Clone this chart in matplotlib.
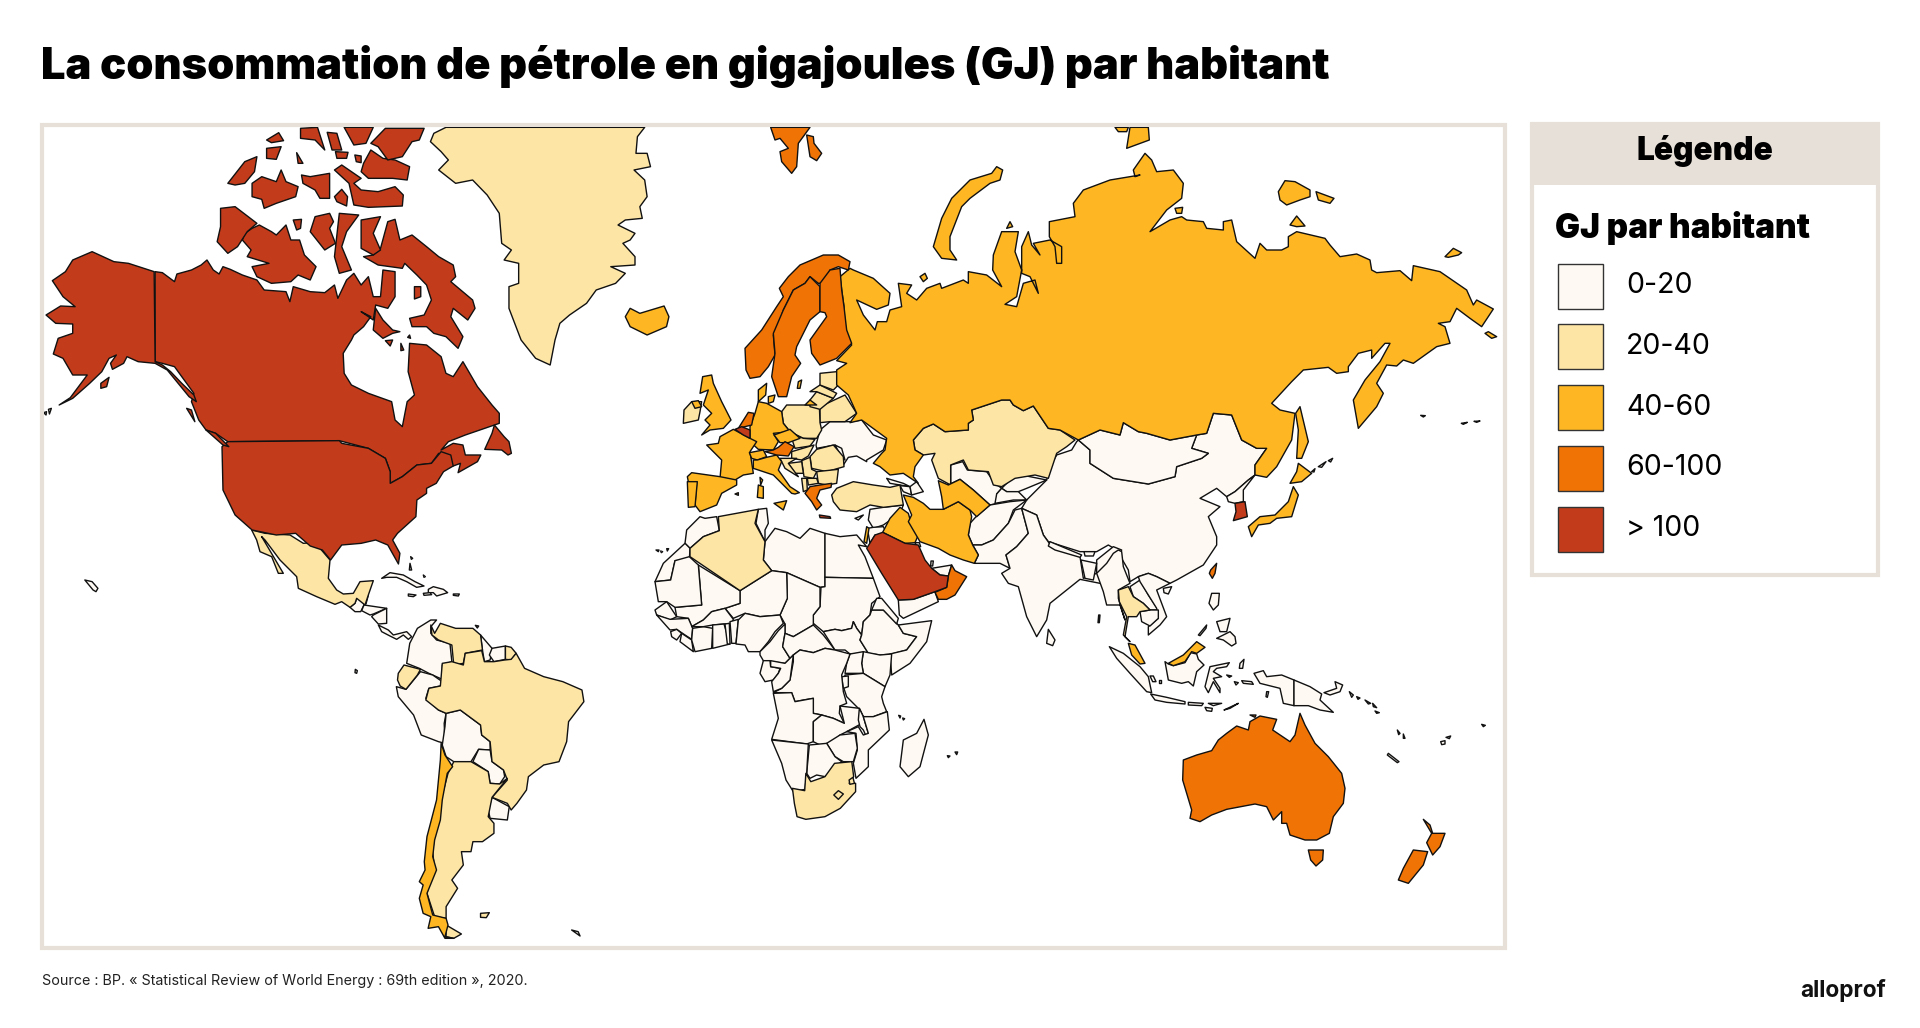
import matplotlib
matplotlib.use("Agg")
import matplotlib.pyplot as plt
from matplotlib.patches import Polygon, Rectangle

# ---- traced map outlines: each helper turns traced points into map units
def _frame(ox, oy, sx, sy):
    def conv(*v):
        return [(ox + v[i] / sx, oy + v[i + 1] / sy) for i in range(0, len(v), 2)]
    return conv
Z1 = _frame(0, 100, 2.063, 3)
Z2 = _frame(640, 120, 3, 3)
Z3 = _frame(1000, 120, 3, 3)
Z4 = _frame(360, 560, 2.613, 3)
Z5 = _frame(1000, 540, 3, 3)
Z7 = _frame(670, 370, 3, 3)
Z8 = _frame(650, 500, 3, 3)
Z9 = _frame(880, 420, 3, 3)
Z10 = _frame(240, 520, 3, 3)

TITLE = "La consommation de pétrole en gigajoules (GJ) par habitant"
SOURCE = "Source : BP. « Statistical Review of World Energy : 69th edition », 2020."
LEGEND_TITLE = "Légende"
LEGEND_SUB = "GJ par habitant"
CLASS_LABELS = ["0-20", "20-40", "40-60", "60-100", "> 100"]
CLASS_COLORS = ["#FEFAF3", "#FDE5A6", "#FEB722", "#F07305", "#C23C1C"]

RUSSIA = Z2(630,445, 640,450, 700,475, 750,520, 745,555, 710,568, 650,540, 670,585, 705,630, 712,605, 740,605, 750,570, 785,560, 775,490, 815,495, 800,520, 830,540, 860,505, 900,490, 905,505, 970,480, 985,490, 985,455, 1040,465, 1085,500, 1058,450, 1060,405, 1085,335, 1135,335, 1125,395, 1145,450, 1130,530, 1095,553, 1130,560, 1150,490, 1185,480, 1195,520, 1170,470, 1145,460, 1145,380, 1165,335, 1175,375, 1200,405, 1180,370, 1230,360, 1265,380, 1265,430, 1250,430, 1245,380, 1228,350, 1228,305, 1305,290, 1300,250, 1330,210, 1410,180, 1500,165) + \
    Z3(420,165, 405,170, 400,150, 435,100, 455,120, 470,155, 520,150, 550,190, 545,235, 500,270, 450,335, 510,300, 545,290, 560,300, 610,305, 620,325, 670,330, 670,305, 695,300, 710,365, 765,415, 780,370, 800,390, 845,390, 865,380, 865,350, 890,335, 975,355, 990,375, 1020,410, 1070,402, 1110,420, 1115,450, 1130,458, 1200,452, 1235,482, 1240,437, 1320,455, 1400,510, 1420,555, 1430,540, 1480,567, 1445,620, 1410,595, 1370,565, 1350,605, 1315,610, 1335,620, 1350,670, 1310,680, 1240,730, 1210,720, 1190,738, 1160,735, 1130,790, 1150,820, 1130,860, 1075,925, 1060,840, 1095,780, 1140,725, 1170,670, 1155,670, 1115,715, 1115,690, 1075,700, 1045,740, 1045,755, 1010,760, 985,742, 910,750, 875,785, 815,850, 840,870, 885,880, 875,960, 830,1040, 800,1072, 765,1065, 765,1035, 800,985, 770,985, 725,960, 695,885, 640,880, 620,940, 590,945, 510,960, 440,940, 415,935, 370,908, 360,945, 300,930, 235,960) + \
    Z2(1260,930, 1225,925, 1180,858, 1150,872, 1120,855, 1110,840, 1085,840, 995,870, 1000,900, 985,910, 985,930, 915,935, 880,912, 850,925, 820,960, 825,990, 850,1005, 825,1040, 820,1070, 835,1090, 790,1060, 750,1065, 720,1040, 700,1030, 725,1000, 735,990, 740,955, 665,900, 630,908, 650,880, 625,825, 590,795, 590,750, 620,730, 590,722, 635,675, 615,630, 612,560, 600,470)
CHINA = Z3(235,960, 270,990, 270,1030, 340,1075, 445,1092, 525,1070, 530,1040, 605,1015, 625,1000, 575,985, 590,945, 620,940, 640,880, 695,885, 725,960, 770,985, 800,985, 765,1035, 765,1065, 745,1080, 705,1115, 680,1130, 650,1105, 600,1135, 660,1160, 625,1190, 650,1250, 650,1275, 610,1335, 530,1380) + \
    Z5(510,130, 470,110, 445,100, 415,110, 390,125, 385,90, 350,30, 325,15, 290,35, 240,35, 145,5) + \
    Z9(490,345, 470,285, 425,265, 440,240, 500,180, 510,140, 530,105, 575,90, 590,65)

SHAPES_LOW = {
 "China": CHINA,
 "Mongolia": Z3(235,960, 300,930, 360,945, 370,908, 415,935, 440,940, 510,960, 590,945, 575,985, 625,1000, 605,1015, 530,1040, 525,1070, 445,1092, 340,1075, 270,1030, 270,990),
 "North Korea": Z3(680,1130, 705,1115, 745,1080, 765,1065, 730,1110, 730,1145, 705,1150, 685,1145),
 "Guatemala": Z10(330,262, 345,250, 350,235, 372,228, 372,255, 362,275, 345,275),
 "Belize": Z10(372,228, 385,225, 378,252, 372,252),
 "Honduras": Z10(372,255, 440,265, 400,282, 390,285, 365,272),
 "Nicaragua": Z10(400,285, 440,265, 440,310, 415,312, 395,290),
 "Costa Rica Panama": Z10(415,315, 445,330, 460,345, 480,340, 500,335, 515,350, 505,358, 490,345, 470,358, 450,348, 425,335),
 "Cuba": Z10(425,175, 450,158, 490,165, 525,185, 552,198, 530,202, 500,185, 470,172, 440,172),
 "Hispaniola": Z10(565,208, 580,200, 610,208, 623,218, 590,228, 580,218, 565,218),
 "Haiti S": Z10(550,220, 570,218, 575,224, 552,226),
 "Jamaica": Z10(505,222, 528,225, 520,230, 505,228),
 "Puerto Rico": Z10(640,222, 658,222, 655,228, 640,226),
 "Colombia": Z4(130,250, 150,205, 185,180, 200,180, 185,200, 185,220, 200,240, 235,250, 240,305, 215,315, 215,358, 180,340, 155,325, 122,310),
 "Guyana": Z4(315,225, 345,265, 340,300, 325,305, 320,270),
 "Suriname": Z4(345,265, 380,258, 380,298, 350,305, 338,285),
 "Peru": Z4(95,380, 120,388, 158,335, 190,345, 215,365, 210,378, 180,385, 172,415, 205,450, 225,460, 220,490, 222,550, 205,545, 160,525, 140,465, 100,410),
 "Bolivia": Z4(225,460, 262,450, 315,495, 318,525, 340,545, 340,570, 310,568, 290,605, 245,605, 225,590, 215,555, 222,500),
 "Paraguay": Z4(310,568, 340,570, 345,605, 375,630, 378,650, 365,672, 340,670, 335,635, 295,605),
 "Uruguay": Z4(345,712, 390,740, 385,780, 340,775, 335,750),
 "Morocco": Z8(105,130, 110,90, 150,50, 165,55, 200,50, 208,92, 160,110, 120,145),
 "W Sahara": Z8(15,245, 40,190, 105,130, 120,145, 118,180, 75,182, 62,240),
 "Tunisia": Z8(325,28, 350,25, 355,70, 345,90, 345,125, 318,70),
 "Libya": Z8(345,125, 375,85, 410,95, 450,115, 480,85, 525,100, 525,260, 510,262, 410,218, 365,212, 340,180),
 "Egypt": Z8(525,100, 570,110, 620,105, 650,140, 625,135, 645,170, 670,235, 525,232),
 "Sudan": Z8(525,232, 670,235, 690,290, 665,310, 660,345, 640,365, 635,405, 620,385, 610,365, 605,385, 575,392, 555,388, 520,395, 490,370, 490,345, 510,320, 513,262, 525,260),
 "Chad": Z8(410,218, 510,262, 510,320, 490,345, 490,375, 430,410, 405,400, 405,372, 390,345, 412,295),
 "Niger": Z8(270,272, 365,212, 410,218, 412,295, 390,345, 330,350, 285,340, 250,355, 225,325, 270,310),
 "Mali": Z8(145,195, 270,272, 270,310, 225,325, 185,335, 160,360, 125,380, 115,355, 80,350, 75,322, 155,315),
 "Mauritania": Z8(15,245, 62,240, 75,182, 118,170, 145,195, 155,315, 75,322, 50,305, 25,305),
 "Senegal": Z8(15,330, 50,305, 80,350, 60,360, 20,345),
 "Guinea": Z8(20,345, 60,358, 115,355, 128,385, 125,418, 105,405, 80,388, 60,390),
 "Sierra Leone": Z8(62,395, 80,388, 95,400, 80,420, 65,410),
 "Liberia": Z8(95,400, 125,420, 130,455, 90,425),
 "Ivory Coast": Z8(128,385, 160,380, 188,385, 185,445, 135,455, 125,420),
 "Burkina": Z8(125,380, 160,360, 185,335, 225,325, 250,358, 245,370, 188,375, 160,380),
 "Ghana": Z8(188,375, 222,372, 240,432, 188,445),
 "Togo": Z8(225,372, 238,370, 240,432, 232,432),
 "Benin": Z8(240,365, 265,358, 258,430, 245,430),
 "Nigeria": Z8(265,360, 285,340, 330,350, 390,345, 400,370, 375,395, 355,425, 330,455, 295,455, 285,435, 258,432),
 "Cameroon": Z8(330,455, 360,425, 385,392, 405,372, 405,400, 398,440, 420,475, 405,490, 340,482, 330,465),
 "CAR": Z8(405,400, 430,410, 490,375, 520,405, 555,450, 525,445, 490,458, 450,450, 430,465, 420,475, 398,440),
 "South Sudan": Z8(520,395, 555,388, 575,392, 605,385, 610,365, 620,385, 635,405, 630,420, 655,460, 635,460, 600,462, 585,450, 555,450),
 "Ethiopia": Z8(635,405, 640,365, 660,345, 665,330, 700,330, 745,375, 760,400, 800,410, 770,450, 725,462, 690,465, 655,460, 630,420),
 "Eritrea": Z8(665,330, 680,295, 695,295, 745,355, 740,372, 700,330),
 "Somalia": Z8(745,375, 845,362, 830,425, 780,490, 725,525, 720,462, 770,450, 800,410, 760,400),
 "Kenya": Z8(640,455, 690,465, 725,462, 720,525, 705,560, 640,520, 635,490),
 "Uganda": Z8(600,462, 640,455, 635,490, 640,520, 585,520, 590,490),
 "Tanzania": Z8(585,525, 640,520, 705,560, 695,590, 700,610, 710,635, 670,650, 640,650, 625,625, 590,590, 580,560),
 "Rwanda": Z8(575,530, 595,528, 595,560, 580,565),
 "DRC": Z8(450,450, 490,458, 525,445, 555,450, 600,462, 590,490, 575,525, 580,575, 590,610, 570,618, 568,640, 583,670, 550,655, 515,645, 490,640, 490,595, 460,600, 435,605, 425,578, 370,578, 395,565, 420,540, 430,485, 430,465),
 "Gabon": Z8(340,482, 360,482, 362,500, 390,505, 385,520, 370,540, 345,545, 330,520),
 "Congo": Z8(362,482, 405,490, 430,465, 420,540, 395,565, 370,575, 365,545, 385,520, 392,505, 362,500),
 "Angola": Z8(370,580, 425,578, 435,605, 490,595, 490,640, 515,645, 490,665, 490,725, 470,732, 365,718, 385,655),
 "Zambia": Z8(515,645, 550,655, 583,670, 570,618, 628,625, 640,650, 645,665, 590,695, 570,705, 545,728, 510,735, 490,725, 490,665),
 "Malawi": Z8(628,625, 640,650, 655,700, 650,712, 640,690, 630,680, 625,660),
 "Mozambique": Z8(640,650, 670,650, 712,635, 718,690, 655,750, 655,800, 618,835, 610,790, 622,750, 618,700, 590,695, 625,680, 640,705, 655,700),
 "Zimbabwe": Z8(530,730, 570,705, 615,700, 622,745, 610,785, 580,785, 555,770),
 "Botswana": Z8(478,735, 530,730, 555,770, 575,785, 545,810, 525,830, 500,825, 480,835, 470,820),
 "Namibia": Z8(365,720, 475,732, 470,820, 465,868, 430,875, 408,840, 395,790),
 "Madagascar": Z8(822,658, 835,705, 810,800, 775,830, 750,800, 760,720, 800,700),
 "Sri Lanka": Z8(1195,388, 1215,420, 1208,437, 1190,430),
 "Yemen": Z8(745,300, 790,298, 855,275, 865,305, 760,355, 748,345),
 "UAE": Z8(845,205, 905,195, 895,228, 870,225),
 "Qatar": Z8(843,183, 850,183, 848,198, 842,198),
 "Kuwait": Z8(795,128, 808,128, 812,140, 800,138),
 "Uzbekistan": Z9(212,135, 248,125, 262,150, 320,155, 345,190, 365,205, 350,222, 352,250, 330,255, 280,210, 240,178, 205,195, 212,195),
 "Kyrgyzstan": Z9(365,205, 400,170, 440,168, 500,180, 440,205, 415,215, 380,215),
 "Tajikistan": Z9(350,222, 365,205, 380,215, 415,215, 440,240, 400,240, 345,250),
 "Afghanistan": Z9(270,310, 290,288, 330,255, 390,245, 440,240, 400,270, 385,310, 340,360, 305,375, 278,375, 265,345),
 "Pakistan": Z9(278,375, 305,375, 340,360, 385,310, 405,270, 425,265, 445,340, 410,380, 378,405, 390,445, 360,430, 283,430, 295,405),
 "India": Z9(425,265, 470,285, 490,345, 515,380, 600,410, 610,475, 650,460, 650,420, 700,380, 725,390, 715,420, 680,500, 660,490, 600,478, 510,550, 500,600, 470,650, 440,590, 415,500, 385,490, 365,460, 390,445, 378,405, 410,380, 445,340),
 "Nepal": Z9(510,365, 605,405, 600,412, 525,390, 505,378),
 "Bhutan": Z9(612,395, 645,395, 640,408, 615,408),
 "Bangladesh": Z9(603,420, 650,430, 640,480, 615,475),
 "Myanmar": Z9(715,390, 725,395, 730,440, 750,490, 715,510, 715,535, 735,600, 720,555, 680,555, 670,515, 650,460, 680,430, 700,400),
 "Laos": Z5(390,140, 420,120, 445,165, 475,210, 450,210, 430,190, 400,170),
 "Vietnam": Z5(415,110, 445,100, 470,110, 510,130, 470,150, 500,230, 480,255, 445,285, 445,260, 475,235, 470,205, 445,165, 420,125),
 "Cambodia": Z5(420,215, 450,210, 475,210, 475,235, 450,258, 425,245),
 "Hainan": Z5(490,145, 515,140, 505,162, 492,158),
 "Borneo": Z5(495,365, 505,372, 520,377, 555,368, 572,338, 590,342, 595,358, 612,375, 590,395, 580,438, 565,425, 545,430, 505,420),
 "Sumatra": Z5(328,320, 370,340, 420,380, 445,410, 455,458, 440,455, 390,400, 350,355),
 "Java": Z5(452,462, 500,472, 555,485, 555,492, 500,487, 465,480),
 "Bangka": Z5(450,408, 460,408, 468,425, 458,425),
 "Belitung": Z5(476,420, 484,420, 484,428, 476,428),
 "Sunda 1": Z5(565,487, 610,490, 605,497, 565,495),
 "Sunda 2": Z5(625,490, 665,490, 640,497),
 "Sumba": Z5(615,502, 637,505, 635,514, 620,512),
 "Timor": Z5(672,510, 715,490, 690,505),
 "Sulawesi": Z5(630,380, 688,368, 680,380, 650,385, 640,395, 665,410, 640,415, 660,445, 660,458, 640,425, 625,458, 615,440, 625,400),
 "Papua": Z5(762,400, 790,392, 800,410, 845,405, 882,420, 882,497, 850,490, 840,445, 780,430),
 "PNG": Z5(882,420, 930,440, 965,462, 960,480, 1000,517, 960,510, 925,497, 882,497),
 "New Britain": Z5(972,458, 1010,445, 1005,425, 1028,435, 1020,455, 990,465),
 "Luzon": Z5(635,160, 658,160, 655,195, 640,210, 627,190),
 "Visayas": Z5(650,245, 690,235, 680,275, 660,275),
 "Mindanao": Z5(650,295, 690,275, 705,290, 708,310, 695,318, 670,300),
 "Palawan": Z5(595,285, 620,255, 618,265, 600,287),
 "Seram": Z5(725,422, 755,425, 760,433, 730,430),
 "Buru": Z5(703,425, 715,428, 708,435),
 "Obi": Z5(680,405, 695,408, 688,412),
 "Halmahera": Z5(720,370, 732,358, 728,385, 718,385),
 "Aru": Z5(800,455, 806,455, 802,472, 798,470),
 "New Caledonia": Z5(1165,640, 1197,665, 1192,668, 1162,645),
 "Fiji": Z5(1322,605, 1335,602, 1335,612, 1325,614),
 "Fiji 2": Z5(1338,592, 1352,588, 1348,596),
 "Solomon 1": Z5(1048,455, 1060,465, 1055,472),
 "Solomon 2": Z5(1095,480, 1112,490, 1105,492),
 "Solomon 3": Z5(1118,490, 1130,503, 1120,500),
 "Solomon 4": Z5(1125,513, 1138,518, 1130,520),
 "Solomon 5": Z5(1070,470, 1080,474, 1074,478),
 "Vanuatu 1": Z5(1192,570, 1200,580, 1196,584),
 "Vanuatu 2": Z5(1210,582, 1215,595, 1210,595),
 "Samoa": Z5(1445,553, 1456,556, 1450,560),
 "Andaman": Z5(296,225, 300,225, 298,248, 294,248),
 "Cape Verde": Z8(18,150, 27,150, 25,155),
 "Cape Verde 2": Z8(32,153, 38,155, 34,158),
 "Cape Verde 3": Z8(50,146, 56,146, 52,153),
 "Comoros": Z8(746,646, 752,648, 750,654),
 "Comoros 2": Z8(758,654, 764,656, 760,660),
 "Mascarene": Z8(915,756, 923,756, 920,764),
 "Mascarene 2": Z8(892,767, 900,768, 895,773),
 "Hawaii": Z1(175,1440, 190,1445, 202,1465, 198,1475, 192,1470),
 "Syria": Z7(600,418, 640,412, 700,405, 690,430, 640,465, 610,475, 595,450),
 "Jordan": Z7(592,475, 610,472, 640,470, 650,490, 615,495, 600,520),
 "Georgia": Z7(650,325, 700,340, 720,350, 690,345, 660,340),
 "Armenia": Z7(690,347, 720,350, 725,375, 700,365),
 "Azerbaijan": Z7(720,350, 740,335, 760,365, 725,375),
 "Ukraine": Z7(438,225, 450,180, 480,155, 545,155, 575,150, 610,195, 650,210, 640,240, 590,270, 590,275, 560,258, 535,262, 520,285, 495,225, 440,235),
 "Moldova": Z7(495,225, 515,235, 525,270, 515,262),
 "Cyprus": Z7(555,445, 580,435, 565,450),
 "Bahamas 1": Z10(510,130, 515,150, 508,150),
 "Bahamas 2": Z10(512,110, 518,115, 514,118),
 "Bahamas 3": Z10(550,165, 556,170, 552,172),
 "Galapagos": Z10(346,448, 352,452, 350,460, 345,458),
 "Trinidad": Z10(706,316, 716,318, 712,324),
 "Aleutian 1": Z1(90,938, 96,935, 95,945),
 "Aleutian 2": Z1(100,928, 106,925, 102,942),
 "Kuril 1": Z3(935,1055, 945,1046, 942,1056),
 "Kuril 2": Z3(955,1040, 978,1025, 965,1042),
 "Kuril 3": Z3(985,1022, 998,1015, 992,1026),
 "Midway 1": Z3(1262,886, 1276,887, 1270,891),
 "Midway 2": Z3(1384,910, 1402,907, 1390,913),
 "Midway 3": Z3(1422,904, 1440,903, 1430,907),
 "S Georgia": Z4(553,1110, 570,1115, 575,1128),
}

SHAPES_MID_LOW = {
 "Greenland": Z1(920,82, 1330,82, 1315,110, 1312,160, 1335,160, 1342,200, 1308,210, 1330,240, 1335,290, 1320,320, 1325,355, 1290,360, 1275,375, 1310,400, 1300,420, 1285,430, 1310,470, 1310,495, 1260,500, 1290,520, 1270,550, 1230,570, 1210,610, 1175,645, 1155,670, 1145,720, 1135,795, 1105,775, 1075,720, 1050,625, 1050,560, 1070,550, 1070,490, 1040,480, 1055,450, 1035,430, 1030,340, 1005,285, 975,240, 940,250, 905,210, 925,180, 910,155, 888,125, 895,100),
 "Mexico": Z10(35,30, 75,40, 150,45, 190,70, 215,68, 240,85, 270,120, 265,175, 290,210, 310,222, 340,220, 360,185, 400,182, 385,225, 375,255, 350,235, 345,250, 330,262, 305,245, 285,253, 230,230, 175,205, 170,170, 120,120, 75,60, 65,50, 130,160, 115,160, 95,110, 60,95, 50,60),
 "Venezuela": Z4(185,195, 195,220, 210,190, 250,205, 295,205, 315,225, 320,270, 275,280, 270,310, 245,315, 240,255, 205,240, 188,225),
 "French Guiana": Z4(380,258, 395,262, 408,280, 395,300, 380,298),
 "Ecuador": Z4(100,340, 115,315, 158,328, 150,345, 120,388, 105,378, 98,360),
 "Brazil": Z4(215,310, 240,305, 270,315, 275,280, 318,272, 325,305, 350,305, 378,300, 395,298, 408,280, 430,325, 480,350, 530,365, 580,390, 585,425, 545,485, 540,545, 520,605, 480,615, 440,650, 435,690, 410,730, 395,750, 385,730, 345,712, 385,660, 375,630, 345,605, 340,545, 318,525, 315,495, 262,450, 225,460, 205,450, 172,420, 180,385, 210,378),
 "Argentina": Z4(245,605, 290,605, 335,635, 340,670, 365,672, 385,655, 345,712, 335,770, 350,790, 350,820, 320,845, 295,845, 290,875, 265,875, 270,915, 240,960, 255,985, 225,1040, 225,1075, 195,1070, 175,1000, 185,950, 195,930, 190,875, 200,770, 230,640),
 "Fuego": Z4(225,1095, 265,1122, 245,1135, 225,1130),
 "Falklands": Z4(315,1060, 338,1058, 330,1073, 315,1072),
 "Algeria": Z8(205,50, 325,28, 315,70, 345,125, 340,180, 365,212, 270,272, 120,170, 120,145, 160,110, 208,92),
 "South Africa": Z4(1130,685, 1162,692, 1165,640, 1178,665, 1215,650, 1240,610, 1285,605, 1290,650, 1278,670, 1295,670, 1295,695, 1255,745, 1215,770, 1165,778, 1142,770, 1135,730),
 "Kazakhstan": Z2(820,960, 850,925, 880,912, 915,935, 985,930, 985,910, 1000,900, 995,870, 1085,840, 1110,840, 1120,855, 1150,872, 1180,858, 1225,925, 1260,930, 1305,960, 1280,980, 1250,1000, 1225,1075, 1185,1065, 1125,1075, 1085,1100, 1060,1095, 1045,1055, 985,1050, 970,1020, 932,1035, 932,1095, 895,1075, 875,1020, 885,1000, 850,1005, 825,990),
 "Thailand": Z5(355,150, 385,140, 400,170, 430,190, 450,210, 420,215, 410,230, 385,230, 375,290, 390,305, 370,285, 380,230, 358,185),
 "Turkey": Z7(485,375, 500,355, 550,335, 610,345, 660,352, 690,345, 700,405, 640,412, 600,405, 560,425, 510,420, 490,395),
 "Belarus": Z7(450,158, 450,110, 525,75, 560,130, 525,155, 480,155),
 "Poland": Z7(335,125, 350,105, 448,105, 450,158, 455,180, 440,205, 400,205, 360,185, 340,160),
 "Lithuania": Z7(420,90, 440,65, 490,85, 450,118, 420,110),
 "Latvia": Z7(420,65, 450,45, 500,70, 490,85, 440,65),
 "Estonia": Z7(450,10, 500,5, 505,45, 490,60, 450,45),
 "Slovakia": Z7(360,190, 400,205, 435,208, 420,228, 375,235),
 "Hungary": Z7(365,245, 432,225, 415,258, 395,270, 365,265),
 "Romania": Z7(420,260, 440,238, 490,225, 520,260, 522,290, 470,305, 425,295),
 "Bulgaria": Z7(440,305, 505,298, 500,340, 470,345, 445,340),
 "Serbia": Z7(395,272, 420,262, 425,298, 440,305, 430,325, 402,320),
 "Bosnia": Z7(355,280, 395,275, 400,310, 375,310),
 "Croatia": Z7(330,265, 380,265, 355,280, 385,320, 345,295),
 "Albania": Z7(395,325, 410,325, 412,360, 400,365),
 "N Macedonia": Z7(412,325, 440,325, 445,340, 415,345),
 "Ireland": Z7(40,160, 42,120, 65,95, 95,95, 90,125, 85,150),
 "Lesotho": Z4(1238,705, 1250,692, 1263,702, 1250,718),
 "Eswatini": Z4(1278,660, 1288,652, 1292,670, 1280,673),
}

SHAPES_MID = {
 "Russia": RUSSIA,
 "Novaya Zemlya": Z2(1055,160, 1070,140, 1088,150, 1080,180, 1050,190, 990,235, 965,260, 930,350, 930,390, 950,420, 905,415, 880,380, 905,295, 935,235, 990,180),
 "Severnaya 1": Z3(345,22, 385,22, 380,35, 355,35),
 "Severnaya 2": Z3(390,22, 445,22, 448,60, 380,85),
 "New Siberian": Z3(835,215, 855,182, 885,185, 930,210, 930,230, 900,240, 860,255, 840,240),
 "New Siberian 2": Z3(948,215, 1002,235, 990,250, 955,240),
 "Bear": Z3(870,315, 890,288, 915,318, 890,320),
 "Sakhalin": Z3(900,860, 925,965, 905,1015, 890,1015, 895,930, 887,880),
 "Wrangel": Z3(1335,410, 1360,385, 1385,398, 1375,405, 1345,412),
 "Chukchi": Z3(1455,640, 1465,635, 1490,650, 1475,655),
 "Kolguev": Z2(840,470, 855,460, 862,475, 850,485),
 "Kara": Z2(1100,325, 1110,305, 1118,320),
 "Taimyr isl": Z3(525,265, 548,262, 545,280, 530,280),
 "Iceland": Z1(1300,625, 1320,640, 1370,618, 1380,650, 1375,680, 1335,705, 1300,680, 1290,650),
 "Chile": Z4(212,550, 222,585, 242,620, 228,640, 215,720, 210,780, 195,840, 190,890, 200,930, 175,1000, 190,1065, 225,1075, 230,1095, 222,1130, 245,1135, 222,1135, 205,1100, 178,1105, 185,1070, 165,1060, 155,1015, 165,975, 155,965, 170,930, 168,905, 175,830, 200,720, 210,600),
 "Iraq": Z8(698,97, 720,55, 750,22, 775,40, 785,75, 805,105, 795,128, 765,130),
 "Iran": Z9(70,225, 100,232, 130,250, 150,268, 190,268, 235,245, 270,270, 275,290, 265,345, 278,375, 295,405, 283,430, 250,420, 210,405, 175,385, 120,365, 85,305, 95,285),
 "Turkmenistan": Z9(175,182, 205,195, 240,178, 280,210, 330,255, 290,290, 270,270, 235,245, 190,268, 185,230),
 "Japan N": Z3(895,1030, 935,1060, 905,1085, 870,1090, 890,1055),
 "Japan": Z3(880,1100, 895,1125, 875,1190, 830,1195, 810,1210, 775,1215, 755,1250, 745,1220, 780,1190, 825,1185, 865,1145),
 "Malaya": Z5(385,310, 405,315, 435,370, 420,372, 395,345),
 "Sarawak": Z5(505,370, 550,345, 590,305, 615,322, 590,340, 575,335, 555,365, 520,377),
 "Israel": Z7(590,470, 597,475, 590,520, 582,515),
 "Kaliningrad": Z7(405,105, 420,90, 440,105),
 "Germany": Z7(265,95, 290,100, 335,125, 340,160, 360,185, 310,190, 325,215, 310,240, 265,238, 240,215, 240,170, 255,130),
 "Denmark": Z7(265,95, 265,60, 290,40, 287,75),
 "Sjaelland": Z2(385,830, 405,825, 400,845, 385,850),
 "Czechia": Z7(312,195, 360,178, 390,205, 355,218, 330,218),
 "France": Z7(110,225, 145,220, 150,200, 190,178, 240,205, 260,215, 240,245, 250,310, 220,315, 195,330, 150,325, 155,270),
 "UK": Z7(98,20, 125,15, 130,40, 155,95, 183,150, 160,175, 120,180, 95,195, 120,165, 105,150, 125,130, 100,105, 115,60, 90,70),
 "N Ireland": Z7(65,95, 85,92, 95,110, 75,115),
 "Spain": Z7(52,320, 65,308, 150,320, 200,330, 200,345, 155,370, 140,405, 90,425, 75,405, 80,340, 55,335),
 "Portugal": Z7(52,335, 82,335, 75,410, 55,412),
 "Switzerland": Z7(238,248, 280,240, 290,260, 262,270, 245,265),
 "Italy": Z7(250,270, 262,270, 290,262, 320,255, 335,275, 325,300, 360,350, 388,368, 375,372, 365,370, 310,315, 265,300, 250,295),
 "Sicily": Z7(312,400, 350,392, 340,420),
 "Sardinia": Z7(265,345, 280,350, 280,385, 262,382),
 "Corsica": Z7(270,322, 278,330, 272,345),
 "Mallorca": Z7(195,372, 205,368, 205,376),
 "Gotland": Z2(475,785, 485,780, 480,805, 472,805),
}

SHAPES_HIGH = {
 "Svalbard": Z2(392,22, 510,22, 475,70, 470,140, 455,160, 425,125, 420,95, 445,85, 420,55, 405,60),
 "Svalbard E": Z2(500,45, 520,50, 522,70, 545,100, 530,122, 510,110),
 "Norway": Z2(315,685, 365,630, 410,560, 430,530, 418,505, 445,470, 480,435, 550,405, 595,405, 630,425, 625,450, 595,440, 570,450, 555,490, 535,490, 510,470, 495,490, 460,510, 430,570, 410,630, 400,645, 405,705, 385,740, 360,770, 330,775, 318,750),
 "Sweden": Z2(495,490, 510,470, 540,500, 540,575, 510,600, 470,680, 465,705, 482,730, 455,770, 440,830, 415,830, 395,770, 405,700, 400,640, 430,570, 460,510),
 "Finland": Z2(540,490, 570,450, 600,445, 605,510, 612,560, 620,630, 635,670, 590,715, 540,735, 515,700, 510,660, 560,590, 555,578, 540,575),
 "Netherlands": Z7(205,175, 235,127, 252,130, 245,165),
 "Austria": Z7(285,245, 310,240, 325,232, 345,215, 372,230, 355,258, 320,255),
 "Greece": Z7(405,370, 420,350, 450,345, 485,340, 483,352, 450,360, 440,385, 455,405, 440,420, 425,395),
 "Oman": Z8(905,195, 915,212, 950,230, 915,285, 890,298, 865,298, 855,277, 890,262, 895,228),
 "Taiwan": Z5(632,90, 650,70, 645,100, 637,115, 628,100),
 "Australia": Z5(550,660, 590,645, 635,632, 655,600, 680,580, 710,558, 745,570, 750,545, 780,528, 830,538, 818,570, 870,605, 885,585, 900,520, 915,555, 945,610, 985,650, 1025,700, 1035,745, 1030,790, 1000,830, 988,880, 950,900, 915,900, 870,885, 860,850, 845,850, 845,815, 820,840, 800,800, 765,792, 680,808, 635,825, 600,845, 570,835, 575,810, 548,720),
 "Tasmania": Z5(925,930, 970,930, 968,960, 948,978, 932,960),
 "Melville": Z5(750,525, 768,525, 765,532),
 "NZ North": Z5(1270,838, 1290,855, 1298,880, 1335,880, 1320,920, 1298,945, 1280,908, 1295,880),
 "NZ South": Z5(1240,930, 1283,935, 1270,975, 1225,1030, 1195,1020, 1210,985),
}

SHAPES_TOP = {
 "Canada": Z1(320,515, 335,518, 360,545, 365,522, 395,510, 415,495, 427,480, 440,510, 452,522, 460,500, 475,508, 500,525, 530,540, 545,570, 590,575, 598,605, 605,560, 640,575, 670,578, 690,555, 697,595, 715,540, 730,520, 745,555, 760,530, 770,590, 785,590, 790,510, 815,515, 815,590, 800,625, 775,615, 770,660, 745,635, 765,650, 750,680, 730,705, 725,720, 708,760, 710,820, 725,855, 760,880, 808,905, 815,960, 830,980, 840,905, 855,885, 842,815, 845,730, 880,735, 910,770, 920,820, 935,830, 955,785, 985,860, 1015,915, 1030,940, 1030,970, 1000,985, 960,1005, 925,1025, 910,1050, 935,1030, 955,1035, 960,1065, 992,1065, 985,1085, 945,1118, 950,1090, 935,1098, 905,1060, 890,1090, 860,1095, 830,1130, 805,1150, 805,1115, 795,1075, 760,1045, 700,1022, 470,1025, 445,1000, 425,990, 410,960, 395,905, 400,880, 375,830, 360,800, 335,790, 320,785),
 "USA": Z1(470,1025, 700,1022, 705,1030, 760,1045, 795,1075, 805,1115, 805,1150, 830,1130, 860,1095, 890,1090, 910,1055, 930,1065, 935,1098, 915,1115, 900,1150, 880,1165, 880,1180, 860,1200, 858,1250, 820,1300, 810,1320, 825,1360, 822,1392, 800,1335, 775,1320, 745,1330, 705,1335, 682,1380, 665,1350, 640,1338, 610,1300, 570,1305, 520,1290, 485,1245, 460,1170, 458,1040),
 "Alaska": Z1(190,455, 205,465, 235,485, 265,490, 318,515, 320,785, 335,795, 352,815, 375,850, 400,885, 405,905, 390,890, 345,810, 320,790, 285,785, 262,770, 255,790, 232,808, 228,790, 240,765, 225,775, 210,815, 185,850, 150,895, 122,915, 145,893, 180,825, 150,825, 130,775, 110,762, 120,715, 150,700, 150,672, 115,670, 95,645, 125,618, 155,620, 130,590, 108,542, 135,515, 150,480),
 "Vancouver": Z1(425,990, 445,1000, 472,1040, 460,1035),
 "Haida": Z1(385,925, 395,930, 402,965),
 "Newfoundland": Z1(1020,975, 1040,1010, 1050,1025, 1055,1060, 1048,1065, 1035,1050, 1000,1048, 1015,1000),
 "Baffin": Z1(800,365, 815,358, 825,420, 850,405, 880,440, 905,470, 935,495, 940,530, 930,545, 975,600, 980,625, 965,660, 935,625, 930,650, 955,710, 945,745, 920,710, 895,700, 880,680, 850,680, 845,655, 875,645, 890,600, 880,555, 860,525, 835,490, 830,505, 780,495, 750,470, 770,465, 785,445),
 "Victoria": Z1(505,400, 520,385, 535,375, 560,395, 570,405, 590,375, 600,420, 618,420, 628,465, 652,500, 640,540, 615,525, 600,545, 560,550, 530,530, 520,500, 555,490, 510,470, 518,450, 500,420),
 "Banks": Z1(455,325, 485,320, 530,370, 510,395, 490,440, 470,460, 448,425, 455,380),
 "PoW": Z1(605,360, 622,358, 620,385, 612,390),
 "Somerset": Z1(650,350, 680,340, 688,365, 680,385, 692,430, 670,450, 640,395),
 "Boothia": Z1(700,340, 740,345, 715,395, 705,440, 725,510, 700,520, 690,470),
 "Bylot": Z1(745,360, 785,350, 770,400, 785,450, 770,465, 745,445),
 "Southampton": Z1(775,625, 790,660, 810,690, 825,695, 810,700, 790,715, 770,690),
 "Mansel": Z1(795,722, 810,720, 805,738),
 "Akimiski": Z1(827,730, 833,750, 827,752),
 "Ottawa": Z1(845,705, 847,715, 841,712),
 "Foxe": Z1(855,560, 868,560, 868,590, 855,597),
 "Melville I": Z1(470,250, 505,185, 530,170, 525,215, 505,250, 485,255),
 "Bathurst": Z1(520,250, 540,230, 570,245, 580,210, 590,245, 615,260, 610,290, 570,310, 545,325, 540,298, 520,290),
 "Cornwallis": Z1(622,225, 640,230, 660,225, 680,220, 680,295, 660,295, 650,270, 625,250),
 "Devon": Z1(690,210, 705,195, 730,220, 745,235, 730,250, 745,270, 780,275, 815,260, 832,285, 830,318, 760,322, 730,315, 720,250),
 "Devon W": Z1(690,290, 705,268, 717,290, 715,318, 695,305),
 "Ellesmere S": Z1(750,190, 765,150, 790,175, 815,180, 845,200, 840,240, 810,235, 760,235, 745,215),
 "Ellesmere": Z1(765,130, 795,85, 875,85, 865,120, 850,125, 830,170, 800,180, 780,140),
 "Axel": Z1(710,82, 770,82, 755,130, 730,135),
 "Amund": Z1(620,85, 655,82, 670,150, 650,120, 620,115),
 "Ringnes": Z1(675,97, 695,100, 705,150, 685,150),
 "Borden": Z1(550,120, 575,98, 585,122, 560,128),
 "Mackenzie": Z1(550,145, 580,140, 570,178, 550,175),
 "Graham": Z1(692,155, 718,157, 715,175, 695,175),
 "Lougheed": Z1(612,158, 625,190, 615,190),
 "Coburg": Z1(732,165, 745,168, 745,188, 735,185),
 "Kodiak": Z1(208,850, 225,832, 220,860, 208,865),
 "South Korea": Z3(705,1150, 735,1145, 742,1190, 700,1202, 708,1175),
 "Saudi Arabia": Z8(675,105, 698,97, 765,130, 805,135, 825,180, 845,205, 870,225, 895,228, 890,262, 855,275, 790,298, 745,300, 695,220, 650,145),
 "Belgium": Z7(195,178, 215,170, 240,180, 240,205, 220,195),
 "Crete": Z7(448,435, 480,440, 482,445, 450,443),
}

LAYERS = [SHAPES_LOW, SHAPES_MID_LOW, SHAPES_MID, SHAPES_HIGH, SHAPES_TOP]

BORDER = "#E6E0D9"
INK = "#000000"

fig = plt.figure(figsize=(19.2, 10.28), dpi=100, facecolor="white")
ax = fig.add_axes([0, 0, 1, 1])
ax.set_xlim(0, 1920)
ax.set_ylim(1028, 0)
ax.axis("off")

frame = Rectangle((42, 125), 1463, 823, fc="white", ec=BORDER, lw=3.0, zorder=1)
ax.add_patch(frame)
clip = Rectangle((44, 127), 1459, 819, transform=ax.transData)

for idx, layer in enumerate(LAYERS):
    for name, pts in layer.items():
        poly = Polygon(pts, closed=True, fc=CLASS_COLORS[idx], ec="#111111", lw=1.0,
                       joinstyle="round", zorder=2 + idx * 0.01)
        ax.add_patch(poly)
        poly.set_clip_path(clip)

renderer = fig.canvas.get_renderer()
def fitted(x, y, s, width, **kw):
    t = ax.text(x, y, s, va="center", **kw)
    w = t.get_window_extent(renderer).width
    t.set_fontsize(t.get_fontsize() * width / w)
    return t

fitted(41, 67, TITLE, 1291, fontsize=30, fontweight=900, family="Inter", color=INK, ha="left")
fitted(42, 981, SOURCE, 484, fontsize=11, family="Inter", color="#222222", ha="left")
fitted(1843, 990, "alloprof", 86, fontsize=16, family="Inter", fontweight="bold", color="#111111", ha="center")

# legend
ax.add_patch(Rectangle((1532, 124), 346, 451, fc="white", ec=BORDER, lw=3.0, zorder=1))
ax.add_patch(Rectangle((1530, 122), 350, 63, fc=BORDER, ec="none", zorder=1.1))
fitted(1705, 151, LEGEND_TITLE, 136, fontsize=22, fontweight=900, family="Inter", color=INK, ha="center")
fitted(1555, 228, LEGEND_SUB, 255, fontsize=22, fontweight=900, family="Inter", color=INK, ha="left")
LABEL_SIZE = 20.5
for i, (lab, col) in enumerate(zip(CLASS_LABELS, CLASS_COLORS)):
    y = 263.5 + i * 60.8
    ax.add_patch(Rectangle((1557.5, y), 45, 45, fc=col, ec="#333333", lw=1.0, zorder=2))
    ax.text(1626, y + 22, lab, fontsize=LABEL_SIZE, family="Inter", color=INK, va="center", ha="left")

fig.savefig("out.png", dpi=100, facecolor="white")
